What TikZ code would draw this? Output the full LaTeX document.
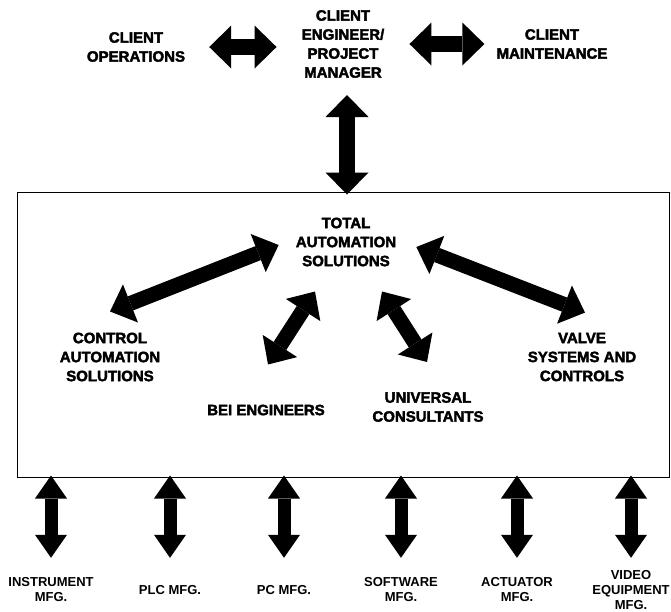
\documentclass[tikz,border=0pt]{standalone}
\usepackage{fontspec}
\setmainfont{Liberation Sans}
\newfontfamily\heavyfont[FakeBold=2.5]{Liberation Sans Bold}
\usetikzlibrary{arrows.meta}

\begin{document}
\begin{tikzpicture}[
    x=1pt, y=-1pt,
    lbl/.style={align=center, inner sep=0pt, font=\heavyfont\fontsize{15}{19}\selectfont},
    mfg/.style={align=center, inner sep=0pt, minimum height=40pt, font=\bfseries\fontsize{13}{15}\selectfont},
    toparr/.style={line width=16pt, {Triangle[length=22pt, width=43pt, line width=0pt]}-{Triangle[length=22pt, width=43pt, line width=0pt]}},
    bigarr/.style={line width=15pt, {Triangle[length=22pt, width=41pt, line width=0pt]}-{Triangle[length=22pt, width=41pt, line width=0pt]}},
    lowarr/.style={line width=13pt, {Triangle[length=23pt, width=32pt, line width=0pt]}-{Triangle[length=23pt, width=32pt, line width=0pt]}},
]
\useasboundingbox (0,0) rectangle (671,611);

% Client side
\node[lbl] (ops) at (136,47) {CLIENT\\OPERATIONS};
\node[lbl] (eng) at (343,44) {CLIENT\\ENGINEER/\\PROJECT\\MANAGER};
\node[lbl] (mnt) at (552,44) {CLIENT\\MAINTENANCE};

% Total automation solutions
\node[draw, line width=1pt, minimum width=652pt, minimum height=285pt, inner sep=0pt] (frame) at (343,334.5) {};
\node[lbl] (tas) at (346,242) {TOTAL\\AUTOMATION\\SOLUTIONS};
\node[lbl] (cas) at (110,357) {CONTROL\\AUTOMATION\\SOLUTIONS};
\node[lbl] (vsc) at (582,357) {VALVE\\SYSTEMS AND\\CONTROLS};
\node[lbl] (bei) at (266,410) {BEI ENGINEERS};
\node[lbl] (uni) at (428,407) {UNIVERSAL\\CONSULTANTS};

% Client links
\draw[toparr, shorten <=24pt, shorten >=25pt] (ops.east) -- (ops.east -| eng.west);
\draw[toparr, shorten <=25pt, shorten >=12pt] (mnt.west -| eng.east) -- (mnt.west);
\draw[toparr, shorten <=17pt, shorten >=-3pt] ([xshift=4pt]eng.south) -- ([xshift=4pt]eng.south |- frame.north);

% Inside the frame
\draw[bigarr] ([shift={(-17,3)}]tas.west) -- ([shift={(0,-21)}]cas.north);
\draw[bigarr] ([shift={(20,5)}]tas.east) -- ([shift={(3,-20)}]vsc.north);
\draw[bigarr] ([shift={(-31,25)}]tas.south) -- ([shift={(2,-40)}]bei.north);
\draw[bigarr] ([shift={(36,25)}]tas.south) -- ([shift={(-1,-30)}]uni.north);

% Manufacturers
\foreach \name/\xpos/\txt in {ins/51/INSTRUMENT\\MFG., plc/170/PLC MFG., pc/284/PC MFG., sw/401/SOFTWARE\\MFG., act/517/ACTUATOR\\MFG., vid/631/VIDEO\\EQUIPMENT\\MFG.} {
  \node[mfg] (\name) at (\xpos,590) {\txt};
  \draw[lowarr, shorten <=-2pt, shorten >=12pt] (frame.south -| \name.north) -- (\name.north);
}

\end{tikzpicture}
\end{document}
